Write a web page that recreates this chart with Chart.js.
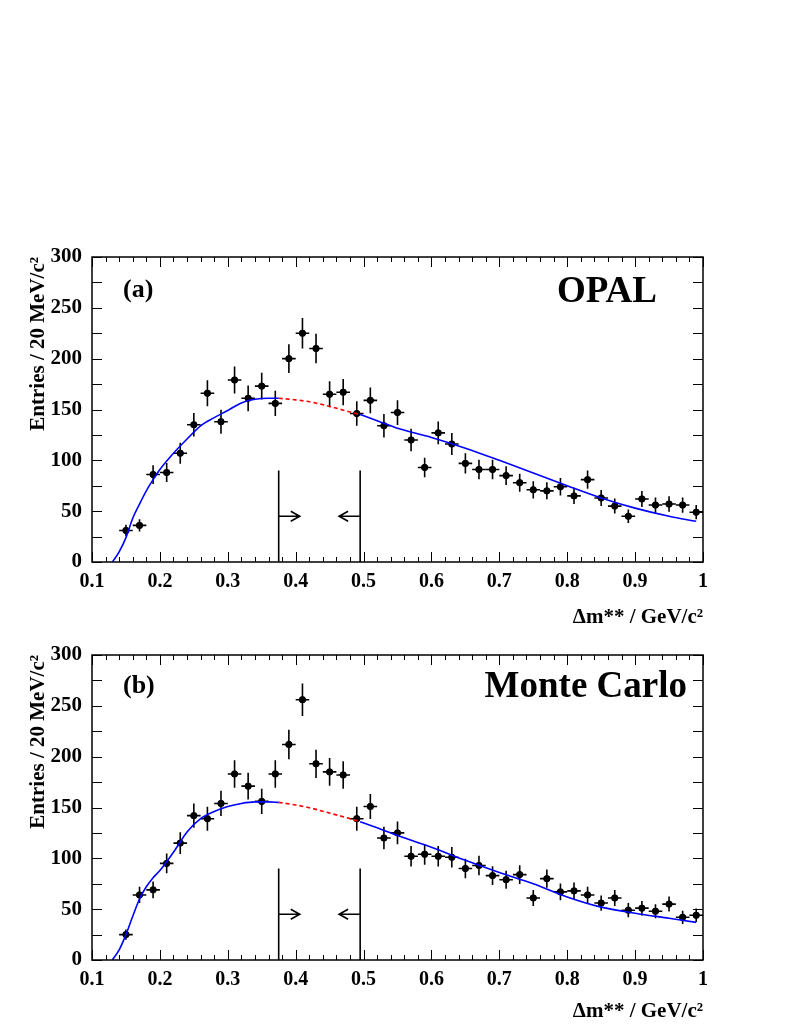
<!DOCTYPE html>
<html>
<head>
<meta charset="utf-8">
<script src="https://cdn.jsdelivr.net/npm/chart.js@4.4.1/dist/chart.umd.min.js"></script>
<style>
  body { margin: 0; background: #fff; width: 800px; height: 1035px; position: relative; overflow: hidden; }
  .panel { position: absolute; left: 0; width: 800px; }
</style>
</head>
<body>
<div class="panel" style="top:0;height:630px"><canvas id="chartA"></canvas></div>
<div class="panel" style="top:630px;height:394px"><canvas id="chartB"></canvas></div>
<script>
// bin centres (GeV/c^2), 20 MeV bins
const binCenters = [0.15, 0.17, 0.19, 0.21, 0.23, 0.25, 0.27, 0.29, 0.31, 0.33,
                    0.35, 0.37, 0.39, 0.41, 0.43, 0.45, 0.47, 0.49, 0.51, 0.53,
                    0.55, 0.57, 0.59, 0.61, 0.63, 0.65, 0.67, 0.69, 0.71, 0.73,
                    0.75, 0.77, 0.79, 0.81, 0.83, 0.85, 0.87, 0.89, 0.91, 0.93,
                    0.95, 0.97, 0.99];
const binHalf = 0.01;

const opalCounts = [31, 36, 86, 88, 107, 135, 166, 138, 179, 161,
                    173, 156, 200, 225, 210, 165, 167, 146, 159, 134,
                    147, 120, 93, 127, 116, 97, 91, 91, 85, 78,
                    71, 70, 74, 65, 81, 63, 55, 45, 62, 56,
                    57, 56, 49];
const mcCounts = [25, 64, 69, 95, 115, 142, 139, 154, 183, 171,
                  156, 183, 212, 256, 193, 185, 182, 139, 151, 120,
                  125, 102, 104, 102, 101, 90, 93, 83, 79, 84,
                  61, 80, 67, 68, 64, 56, 61, 49, 51, 48,
                  55, 42, 44];

// background fit
const fitLeftX = [0.13, 0.14, 0.15, 0.16, 0.17, 0.18, 0.19, 0.20, 0.22, 0.24, 0.26, 0.28, 0.30, 0.32, 0.34, 0.36, 0.375];
const opalFitLeft = [0, 10, 24, 43, 57, 70, 81, 91, 107, 121, 134, 142, 149, 156.5, 160, 161, 161];
const mcFitLeft = [0, 10, 25, 43, 60, 72, 81, 88, 106, 126, 139, 146, 151, 154, 155.5, 155.5, 155];
const fitMidX = [0.375, 0.40, 0.425, 0.45, 0.475, 0.495];
const opalFitMid = [161, 159.5, 157, 153, 148.5, 145];
const mcFitMid = [155, 152.5, 149, 144.5, 140, 136];
const fitRightX = [0.495, 0.52, 0.55, 0.60, 0.65, 0.70, 0.75, 0.80, 0.85, 0.90, 0.95, 0.99];
const opalFitRight = [145, 139, 131.5, 122.5, 112, 100, 87.5, 75, 63, 53, 45, 40];
const mcFitRight = [136, 130, 122.5, 111, 98, 86, 75, 62, 52, 46, 41, 37];

// signal window cuts
const cutLow = 0.375;
const cutHigh = 0.495;
const cutLineTop = 90;
const arrowLevel = 45;
const arrowLen = 0.031;

const xTickLabels = ['0.1', '0.2', '0.3', '0.4', '0.5', '0.6', '0.7', '0.8', '0.9', '1'];
const yTicks = [0, 50, 100, 150, 200, 250, 300];

const serif = "'Liberation Serif', 'Times New Roman', serif";

function pts(xs, ys) {
    return xs.map((x, i) => ({ x: x, y: ys[i] }));
}

const histoPlugin = {
    id: 'histo',
    beforeDatasetsDraw(chart, args, opts) {
        const { ctx, scales: { x, y } } = chart;
        ctx.save();
        ctx.strokeStyle = '#000';
        ctx.lineWidth = 1.6;
        opts.counts.forEach((v, i) => {
            const cx = x.getPixelForValue(binCenters[i]);
            const cy = y.getPixelForValue(v);
            const e = Math.sqrt(v);
            ctx.beginPath();
            ctx.moveTo(cx, y.getPixelForValue(v + e));
            ctx.lineTo(cx, y.getPixelForValue(Math.max(0, v - e)));
            ctx.moveTo(x.getPixelForValue(binCenters[i] - binHalf), cy);
            ctx.lineTo(x.getPixelForValue(binCenters[i] + binHalf), cy);
            ctx.stroke();
        });
        ctx.restore();
    },
    afterDatasetsDraw(chart, args, opts) {
        const { ctx, chartArea: a, scales: { x, y } } = chart;
        ctx.save();
        ctx.strokeStyle = '#000';
        ctx.lineWidth = 1.6;

        // cut lines and arrows
        const xl = x.getPixelForValue(cutLow);
        const xh = x.getPixelForValue(cutHigh);
        const yt = y.getPixelForValue(cutLineTop);
        const y0 = y.getPixelForValue(0);
        const ya = y.getPixelForValue(arrowLevel);
        const xlEnd = x.getPixelForValue(cutLow + arrowLen);
        const xhEnd = x.getPixelForValue(cutHigh - arrowLen);
        ctx.beginPath();
        ctx.moveTo(xl, yt); ctx.lineTo(xl, y0);
        ctx.moveTo(xh, yt); ctx.lineTo(xh, y0);
        ctx.moveTo(xl, ya); ctx.lineTo(xlEnd, ya);
        ctx.moveTo(xlEnd - 9, ya - 5); ctx.lineTo(xlEnd, ya); ctx.lineTo(xlEnd - 9, ya + 5);
        ctx.moveTo(xh, ya); ctx.lineTo(xhEnd, ya);
        ctx.moveTo(xhEnd + 9, ya - 5); ctx.lineTo(xhEnd, ya); ctx.lineTo(xhEnd + 9, ya + 5);
        ctx.stroke();

        // frame
        ctx.lineWidth = 1.5;
        ctx.strokeRect(a.left, a.top, a.right - a.left, a.bottom - a.top);

        // inward ticks
        ctx.lineWidth = 1;
        ctx.beginPath();
        for (let k = 0; k <= 45; k++) {
            const v = 0.1 + k * 0.02;
            const px = Math.round(x.getPixelForValue(v)) + 0.5;
            const len = k % 5 === 0 ? 10 : 5;
            ctx.moveTo(px, a.bottom); ctx.lineTo(px, a.bottom - len);
            ctx.moveTo(px, a.top); ctx.lineTo(px, a.top + len);
        }
        for (let k = 0; k <= 12; k++) {
            const py = Math.round(y.getPixelForValue(k * 25)) + 0.5;
            ctx.moveTo(a.left, py); ctx.lineTo(a.left + 10, py);
            ctx.moveTo(a.right, py); ctx.lineTo(a.right - 10, py);
        }
        ctx.stroke();

        // labels
        ctx.fillStyle = '#000';
        ctx.textBaseline = 'alphabetic';
        ctx.font = 'bold 26px ' + serif;
        ctx.textAlign = 'left';
        ctx.fillText(opts.tag, a.left + 31, a.top + opts.tagDy);
        ctx.font = 'bold 37px ' + serif;
        ctx.textAlign = 'right';
        ctx.fillText(opts.title, opts.titleRight, a.top + opts.titleDy);
        ctx.restore();
    }
};

function makeChart(id, counts, fitL, fitM, fitR, xAxisH, padTop, labels) {
    return new Chart(document.getElementById(id), {
        type: 'scatter',
        data: {
            datasets: [
                {
                    type: 'line', data: pts(fitLeftX, fitL), borderColor: '#0000ff', borderWidth: 1.6,
                    pointRadius: 0, cubicInterpolationMode: 'monotone', fill: false
                },
                {
                    type: 'line', data: pts(fitMidX, fitM), borderColor: '#ff0000', borderWidth: 1.6,
                    borderDash: [4, 3], pointRadius: 0, cubicInterpolationMode: 'monotone', fill: false
                },
                {
                    type: 'line', data: pts(fitRightX, fitR), borderColor: '#0000ff', borderWidth: 1.6,
                    pointRadius: 0, cubicInterpolationMode: 'monotone', fill: false
                },
                {
                    data: pts(binCenters, counts), backgroundColor: '#000', borderColor: '#000',
                    pointRadius: 3.2, pointHoverRadius: 3.2
                }
            ]
        },
        options: {
            responsive: true,
            maintainAspectRatio: false,
            animation: false,
            events: [],
            layout: { padding: { left: 26, right: 97, top: padTop, bottom: 0 } },
            plugins: {
                legend: { display: false },
                tooltip: { enabled: false },
                histo: labels
            },
            scales: {
                x: {
                    type: 'linear', min: 0.1, max: 1.0,
                    grid: { display: false, drawTicks: false },
                    border: { display: false },
                    ticks: {
                        stepSize: 0.1, padding: 8, color: '#000',
                        font: { family: serif, weight: 'bold', size: 20 },
                        callback: (v) => xTickLabels[Math.round((v - 0.1) * 10)]
                    },
                    title: {
                        display: true, text: 'Δm** / GeV/c²', align: 'end', color: '#000',
                        font: { family: serif, weight: 'bold', size: 21 },
                        padding: { top: 6, bottom: 0 }
                    },
                    afterFit: (s) => { s.height = xAxisH; }
                },
                y: {
                    type: 'linear', min: 0, max: 300,
                    grid: { display: false, drawTicks: false },
                    border: { display: false },
                    afterBuildTicks: (s) => { s.ticks = yTicks.map(v => ({ value: v })); },
                    ticks: {
                        padding: 10, color: '#000',
                        font: { family: serif, weight: 'bold', size: 21 }
                    },
                    title: {
                        display: true, text: 'Entries / 20 MeV/c²', align: 'end', color: '#000',
                        font: { family: serif, weight: 'bold', size: 21 },
                        padding: { top: 0, bottom: 0 }
                    },
                    afterFit: (s) => { s.width = 66; }
                }
            }
        },
        plugins: [histoPlugin]
    });
}

makeChart('chartA', opalCounts, opalFitLeft, opalFitMid, opalFitRight, 68, 257,
    { counts: opalCounts, tag: '(a)', title: 'OPAL', titleRight: 657, tagDy: 40, titleDy: 45 });
makeChart('chartB', mcCounts, mcFitLeft, mcFitMid, mcFitRight, 64, 25,
    { counts: mcCounts, tag: '(b)', title: 'Monte Carlo', titleRight: 687, tagDy: 38, titleDy: 42 });
</script>
</body>
</html>
